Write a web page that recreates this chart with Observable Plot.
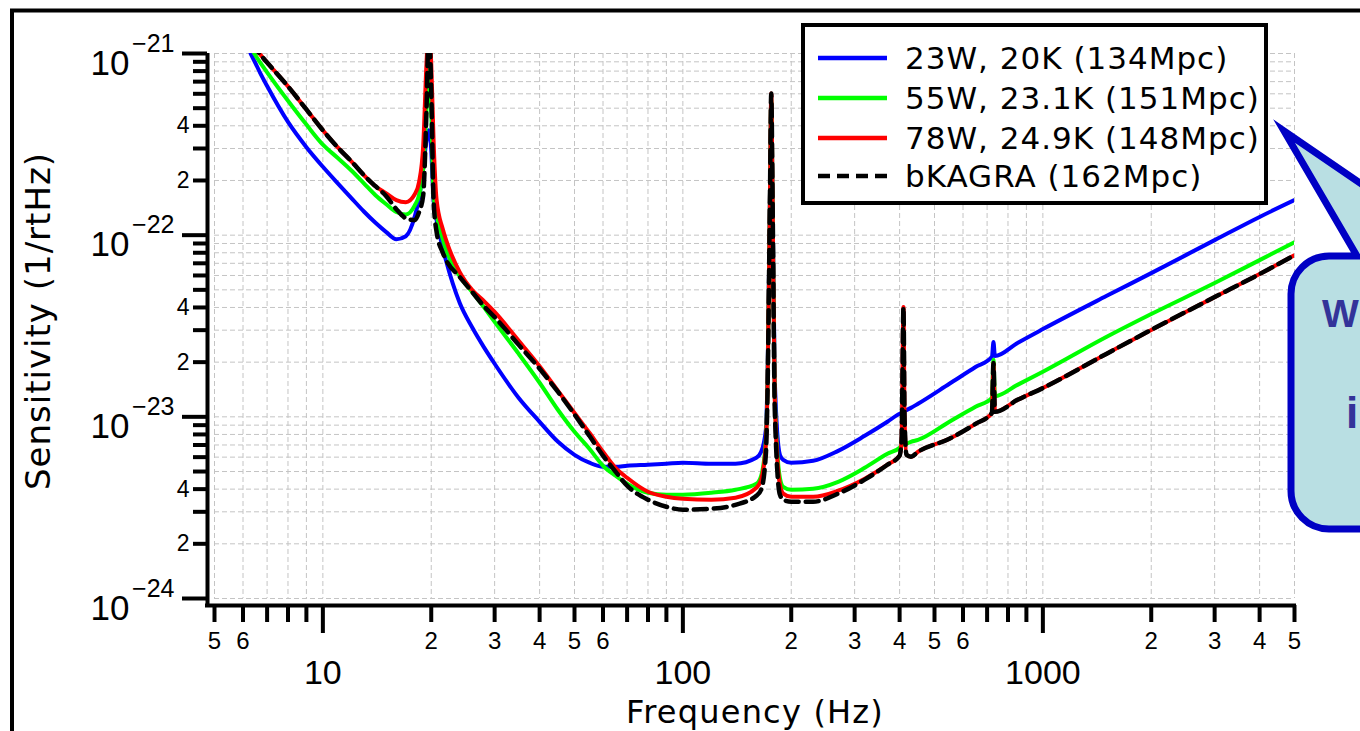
<!DOCTYPE html>
<html><head><meta charset="utf-8">
<script src="https://cdn.jsdelivr.net/npm/d3@7"></script>
<script src="https://cdn.jsdelivr.net/npm/@observablehq/plot@0.6"></script>
<style>
html,body{margin:0;padding:0;background:#fff;}
#wrap{position:relative;width:1360px;height:731px;overflow:hidden;background:#fff;}
#wrap svg{position:absolute;left:0;top:0;}
</style></head><body><div id="wrap"></div>
<script>
// Frequency grid (Hz)
const freq = [6.3, 6.5, 6.7, 7, 8, 9, 10, 11, 12, 13, 14, 15, 16, 17, 18, 18.5, 19, 19.4, 19.7, 20, 20.3, 20.7, 21.5, 22, 24, 26, 28, 30, 35, 40, 45, 50, 55, 60, 65, 70, 80, 90, 100, 120, 140, 160, 165, 170, 172, 174.5, 176, 177.5, 180, 186, 190, 200, 230, 270, 320, 370, 400, 405, 410, 413, 418, 430, 450, 550, 650, 722, 729, 736, 850, 1000, 1500, 2000, 3000, 4000, 5000];

// Sensitivity (1/rtHz) for each configuration
const sens23W = [1e-21, 8.83e-22, 7.8e-22, 6.62e-22, 4.2e-22, 3.05e-22, 2.38e-22, 1.93e-22, 1.6e-22, 1.35e-22,
  1.17e-22, 1.04e-22, 9.5e-23, 9.87e-23, 1.27e-22, 1.6e-22, 2.33e-22, 3.33e-22, 3.78e-22, 2.93e-22,
  1.56e-22, 1.21e-22, 8.59e-23, 7.2e-23, 4.23e-23, 3.1e-23, 2.42e-23, 1.96e-23, 1.27e-23, 9.39e-24,
  7.29e-24, 6.18e-24, 5.59e-24, 5.31e-24, 5.31e-24, 5.38e-24, 5.45e-24, 5.52e-24, 5.59e-24, 5.52e-24,
  5.52e-24, 5.95e-24, 6.42e-24, 8.48e-24, 1.81e-23, 1.56e-22, 4.86e-22, 1.56e-22, 1.6e-23, 6.18e-24,
  5.8e-24, 5.59e-24, 5.73e-24, 6.5e-24, 7.86e-24, 9.39e-24, 1.04e-23, 1.05e-23, 1.16e-23, 1.08e-23,
  1.09e-23, 1.12e-23, 1.18e-23, 1.52e-23, 1.88e-23, 2.14e-23, 2.58e-23, 2.16e-23, 2.55e-23, 3.04e-23,
  4.62e-23, 6.18e-23, 9.39e-23, 1.26e-22, 1.56e-22];

const sens55W = [1.08e-21, 9.75e-22, 8.92e-22, 7.87e-22, 5.49e-22, 4.06e-22, 3.15e-22, 2.66e-22, 2.27e-22, 1.93e-22,
  1.66e-22, 1.48e-22, 1.34e-22, 1.3e-22, 1.46e-22, 1.66e-22, 2.33e-22, 4.86e-22, 9.15e-22, 4.86e-22,
  1.66e-22, 1.29e-22, 9.63e-23, 8.27e-23, 5.95e-23, 4.86e-23, 4.02e-23, 3.33e-23, 2.22e-23, 1.54e-23,
  1.09e-23, 8.27e-24, 6.67e-24, 5.38e-24, 4.74e-24, 4.28e-24, 3.82e-24, 3.73e-24, 3.73e-24, 3.82e-24,
  3.97e-24, 4.28e-24, 4.74e-24, 7.47e-24, 1.64e-23, 1.56e-22, 5.52e-22, 1.56e-22, 1.32e-23, 4.62e-24,
  4.12e-24, 3.97e-24, 4.02e-24, 4.39e-24, 5.24e-24, 6.26e-24, 6.76e-24, 6.93e-24, 9.63e-24, 7.02e-24,
  7.11e-24, 7.29e-24, 7.47e-24, 9.39e-24, 1.135e-23, 1.27e-23, 2.06e-23, 1.3e-23, 1.5e-23, 1.77e-23,
  2.75e-23, 3.68e-23, 5.45e-23, 7.29e-23, 9.15e-23];

const sens78W = [1.15e-21, 1.065e-21, 9.87e-22, 8.92e-22, 6.59e-22, 4.92e-22, 3.78e-22, 3.04e-22, 2.55e-22, 2.14e-22,
  1.86e-22, 1.7e-22, 1.56e-22, 1.52e-22, 1.68e-22, 1.96e-22, 3.12e-22, 8.81e-22, 1.43e-21, 8.81e-22,
  3.33e-22, 1.56e-22, 1.09e-22, 9.39e-23, 6.26e-23, 4.99e-23, 4.34e-23, 3.78e-23, 2.62e-23, 1.9e-23,
  1.39e-23, 1.05e-23, 8.17e-24, 6.42e-24, 5.24e-24, 4.62e-24, 3.87e-24, 3.63e-24, 3.54e-24, 3.5e-24,
  3.59e-24, 4.07e-24, 4.51e-24, 7.02e-24, 1.6e-23, 1.56e-22, 6.03e-22, 1.56e-22, 1.24e-23, 4.23e-24,
  3.78e-24, 3.63e-24, 3.63e-24, 3.92e-24, 4.56e-24, 5.45e-24, 6.11e-24, 7.47e-24, 4.02e-23, 9.63e-24,
  6.18e-24, 6.03e-24, 6.42e-24, 7.57e-24, 9.15e-24, 1.05e-23, 1.98e-23, 1.065e-23, 1.24e-23, 1.44e-23,
  2.22e-23, 3.01e-23, 4.56e-23, 6.11e-23, 7.76e-23];

const sensBKAGRA = [1.15e-21, 1.065e-21, 9.87e-22, 8.92e-22, 6.59e-22, 4.92e-22, 3.78e-22, 3.04e-22, 2.55e-22, 2.14e-22,
  1.86e-22, 1.64e-22, 1.39e-22, 1.24e-22, 1.21e-22, 1.34e-22, 1.66e-22, 4.86e-22, 1.43e-21, 6.26e-22,
  1.56e-22, 1.04e-22, 8.06e-23, 7.29e-23, 5.88e-23, 4.86e-23, 4.07e-23, 3.54e-23, 2.49e-23, 1.84e-23,
  1.37e-23, 1.03e-23, 7.86e-24, 6.11e-24, 4.99e-24, 4.18e-24, 3.5e-24, 3.2e-24, 3.08e-24, 3.12e-24,
  3.28e-24, 3.68e-24, 3.97e-24, 6.18e-24, 1.5e-23, 1.56e-22, 6.03e-22, 1.56e-22, 1.09e-23, 3.73e-24,
  3.5e-24, 3.41e-24, 3.41e-24, 3.78e-24, 4.51e-24, 5.45e-24, 6.11e-24, 7.47e-24, 4.02e-23, 9.63e-24,
  6.18e-24, 6.03e-24, 6.42e-24, 7.57e-24, 9.15e-24, 1.05e-23, 1.98e-23, 1.065e-23, 1.24e-23, 1.44e-23,
  2.22e-23, 3.01e-23, 4.56e-23, 6.11e-23, 7.76e-23];

const seriesNames = ["23W, 20K (134Mpc)", "55W, 23.1K (151Mpc)", "78W, 24.9K (148Mpc)", "bKAGRA (162Mpc)"];
const seriesColors = ["#0000ff", "#00ff00", "#ff0000", "#000000"];
const seriesValues = [sens23W, sens55W, sens78W, sensBKAGRA];

// Axis ticks
const xMajorTicks = [10, 100, 1000];
const xMajorLabels = ["10", "100", "1000"];
const xMinorTicks = [5, 6, 7, 8, 9, 20, 30, 40, 50, 60, 70, 80, 90, 200, 300, 400, 500, 600, 700, 800, 900, 2000, 3000, 4000, 5000];
const xMinorLabelTicks = [5, 6, 20, 30, 40, 50, 60, 200, 300, 400, 500, 600, 2000, 3000, 4000, 5000];
const xMinorLabels = ["5", "6", "2", "3", "4", "5", "6", "2", "3", "4", "5", "6", "2", "3", "4", "5"];
const yMajorTicks = [1e-24, 1e-23, 1e-22, 1e-21];
const yMajorExp = ["\u221224", "\u221223", "\u221222", "\u221221"];
const yMinorTicks = [2e-24, 3e-24, 4e-24, 5e-24, 6e-24, 7e-24, 8e-24, 9e-24,
  2e-23, 3e-23, 4e-23, 5e-23, 6e-23, 7e-23, 8e-23, 9e-23,
  2e-22, 3e-22, 4e-22, 5e-22, 6e-22, 7e-22, 8e-22, 9e-22];
const yMinorLabelTicks = [2e-24, 4e-24, 2e-23, 4e-23, 2e-22, 4e-22];
const yMinorLabels = ["2", "4", "2", "4", "2", "4"];

const xGrid = [...xMinorTicks, ...xMajorTicks];
const yGrid = [...yMinorTicks, ...yMajorTicks];

const rows = seriesValues.map(vals => freq.map((f, i) => ({f, s: vals[i]})));
const numFont = "Liberation Sans, Arial, sans-serif";

const chart = Plot.plot({
  width: 1360, height: 731,
  marginLeft: 214, marginRight: 66, marginTop: 53, marginBottom: 133,
  style: {fontFamily: numFont, background: "transparent", color: "#000"},
  x: {type: "log", domain: [5, 5000]},
  y: {type: "log", domain: [1e-24, 1e-21]},
  marks: [
    Plot.gridX({ticks: xGrid, stroke: "#c4c4c4", strokeOpacity: 1, strokeWidth: 1, strokeDasharray: "5,3"}),
    Plot.gridY({ticks: yGrid, stroke: "#c4c4c4", strokeOpacity: 1, strokeWidth: 1, strokeDasharray: "5,3"}),
    // axis lines (offset from the plotting area)
    Plot.ruleY([1e-24], {dy: 7, insetLeft: -9, insetRight: -2, strokeWidth: 4, stroke: "#000"}),
    Plot.ruleX([5], {dx: -7, insetBottom: -9, strokeWidth: 4, stroke: "#000"}),
    // ticks
    Plot.axisX({ticks: xMinorTicks, anchor: "bottom", tickSize: 17, tickFormat: () => "", strokeWidth: 4, dy: 7, label: null}),
    Plot.axisX({ticks: xMajorTicks, anchor: "bottom", tickSize: 28, tickFormat: () => "", strokeWidth: 4, dy: 7, label: null}),
    Plot.axisY({ticks: yMinorTicks, anchor: "left", tickSize: 14, tickFormat: () => "", strokeWidth: 4, dx: -7, label: null}),
    Plot.axisY({ticks: yMajorTicks, anchor: "left", tickSize: 25, tickFormat: () => "", strokeWidth: 4, dx: -7, label: null}),
    // tick labels
    Plot.text(xMinorLabelTicks, {x: d => d, frameAnchor: "bottom", text: (d, i) => xMinorLabels[i], dy: 50, lineAnchor: "bottom", fontSize: 24, fill: "#000"}),
    Plot.text(xMajorTicks, {x: d => d, frameAnchor: "bottom", text: (d, i) => xMajorLabels[i], dy: 85, lineAnchor: "bottom", fontSize: 34, fill: "#000"}),
    Plot.text(yMajorTicks, {y: d => d, frameAnchor: "left", text: () => "10", textAnchor: "end", dx: -85, dy: 21, lineAnchor: "bottom", fontSize: 35, fill: "#000"}),
    Plot.text(yMajorTicks, {y: d => d, frameAnchor: "left", text: (d, i) => yMajorExp[i], textAnchor: "end", dx: -40, dy: -2, lineAnchor: "bottom", fontSize: 25, fill: "#000"}),
    Plot.text(yMinorLabelTicks, {y: d => d, frameAnchor: "left", text: (d, i) => yMinorLabels[i], textAnchor: "end", dx: -25, lineAnchor: "middle", fontSize: 23, fill: "#000"}),
    // curves
    Plot.line(rows[0], {x: "f", y: "s", stroke: seriesColors[0], strokeWidth: 4, curve: "monotone-x", clip: true}),
    Plot.line(rows[1], {x: "f", y: "s", stroke: seriesColors[1], strokeWidth: 4, curve: "monotone-x", clip: true}),
    Plot.line(rows[2], {x: "f", y: "s", stroke: seriesColors[2], strokeWidth: 4, curve: "monotone-x", clip: true}),
    Plot.line(rows[3], {x: "f", y: "s", stroke: seriesColors[3], strokeWidth: 4.5, strokeDasharray: "13,7", curve: "monotone-x", clip: true})
  ]
});
const wrap = document.getElementById("wrap");
wrap.appendChild(chart);

// Overlay: frame, axis titles, legend, callout
const NS = "http://www.w3.org/2000/svg";
const ov = document.createElementNS(NS, "svg");
ov.setAttribute("width", 1360); ov.setAttribute("height", 731);
function el(tag, attrs, text) {
  const e = document.createElementNS(NS, tag);
  for (const k in attrs) e.setAttribute(k, attrs[k]);
  if (text != null) e.textContent = text;
  ov.appendChild(e);
  return e;
}
const wordFont = "DejaVu Sans, sans-serif";
el("rect", {x: 12, y: 10.5, width: 2000, height: 2000, fill: "none", stroke: "#000", "stroke-width": 4});
el("text", {x: 755, y: 723, "text-anchor": "middle", "font-family": wordFont, "font-size": 32, "letter-spacing": 1.2}, "Frequency (Hz)");
el("text", {transform: "translate(50,321) rotate(-90)", "text-anchor": "middle", "font-family": wordFont, "font-size": 34, "letter-spacing": 1}, "Sensitivity (1/rtHz)");

// legend
el("rect", {x: 803, y: 25, width: 463, height: 178, fill: "#fff", stroke: "#000", "stroke-width": 4});
const rowY = [58, 98, 138, 176];
seriesNames.forEach((name, i) => {
  const a = {x1: 818, x2: 887, y1: rowY[i], y2: rowY[i], stroke: seriesColors[i], "stroke-width": 4.5};
  if (i === 3) a["stroke-dasharray"] = "12,7";
  el("line", a);
  el("text", {x: 905, y: rowY[i], dy: "0.36em", "font-family": wordFont, "font-size": 31, "letter-spacing": 1}, name);
});

// callout bubble
el("path", {d: "M1357,256 L1284,131 L1467,256 L1800,256 L1800,529 L1329,529 A38,38 0 0 1 1291,491 L1291,294 A38,38 0 0 1 1329,256 Z",
  fill: "#b9dfe3", stroke: "#0000c4", "stroke-width": 7, "stroke-linejoin": "miter", "stroke-miterlimit": 10});
el("text", {x: 1322, y: 327, "font-family": "Liberation Sans, Arial, sans-serif", "font-weight": "bold", "font-size": 39, fill: "#333399"}, "W");
el("text", {x: 1346, y: 428, "font-family": "Liberation Sans, Arial, sans-serif", "font-weight": "bold", "font-size": 44, fill: "#333399"}, "i");
wrap.appendChild(ov);
</script>
</body></html>
